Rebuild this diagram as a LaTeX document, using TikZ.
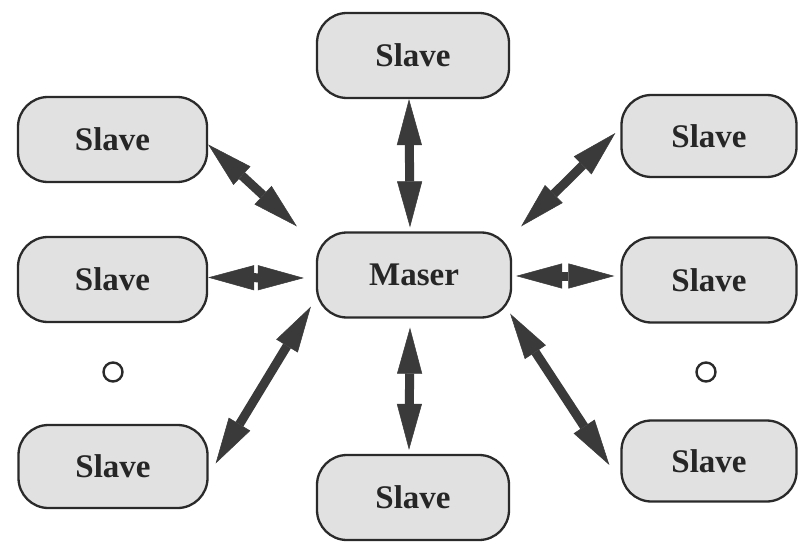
\documentclass[tikz,border=0pt]{standalone}
\usepackage{fontspec}
\setmainfont{Liberation Serif}
\usetikzlibrary{arrows.meta}
\definecolor{boxfill}{HTML}{E1E1E1}
\definecolor{boxline}{HTML}{2A2A2A}
\definecolor{arrowgray}{HTML}{3A3A3A}
\tikzset{
  unitbox/.style={draw=boxline, line width=2.3pt, fill=boxfill, rounded corners=30pt,
    minimum height=85pt, inner sep=0pt,
    font=\fontsize{33}{33}\selectfont\bfseries, text=black!85},
  link/.style={draw=arrowgray, line width=9pt,
    {Triangle[length=46pt,width=25pt,line width=0.5pt]}-{Triangle[length=46pt,width=25pt,line width=0.5pt]}},
  dotmark/.style={draw=boxline, line width=2.4pt, fill=white}
}
\begin{document}
\begin{tikzpicture}[x=1pt,y=-1pt]
\path[use as bounding box, fill=white] (0,0) rectangle (800,548);

% central unit
\node[unitbox, minimum width=194pt] (m) at (414,275) {Maser};

% units above and below
\node[unitbox, minimum width=192pt] (top) at (413,55.5) {Slave};
\node[unitbox, minimum width=192pt] (bot) at (413,497.5) {Slave};

% left column
\node[unitbox, minimum width=189pt] (l1) at (112.5,139.5) {Slave};
\node[unitbox, minimum width=189pt] (l2) at (112.5,279.5) {Slave};
\node[unitbox, minimum width=189pt, minimum height=83pt] (l3) at (113,466.5) {Slave};
\node[dotmark, circle, minimum size=19pt, inner sep=0pt] (ldot) at (113,372) {};

% right column
\node[unitbox, minimum width=175pt, minimum height=82pt] (r1) at (709,136) {Slave};
\node[unitbox, minimum width=175pt] (r2) at (709,280) {Slave};
\node[unitbox, minimum width=175pt, minimum height=81pt] (r3) at (709,461) {Slave};
\node[dotmark, circle, minimum size=19pt, inner sep=0pt] (rdot) at (706,372) {};

% bidirectional links
\draw[link] ([yshift=-5]l1.east) -- ([shift={(-19,-5)}]m.north west);
\draw[link] ([xshift=-4]top.south) -- ([shift={(-4,-4)}]m.north);
\draw[link] ([shift={(9,-5)}]m.north east) -- ([shift={(-5,-3)}]r1.west);
\draw[link] ([shift={(0,-2)}]l2.east) -- ([shift={(-12,3)}]m.west);
\draw[link] ([shift={(4,1)}]m.east) -- ([shift={(-6,-4)}]r2.west);
\draw[link] ([shift={(7,-3)}]l3.east) -- ([shift={(-5,-12)}]m.south west);
\draw[link] ([shift={(-4,9)}]m.south) -- ([shift={(-4,-4)}]bot.north);
\draw[link] ([shift={(-2,-5)}]m.south east) -- ([shift={(-11,4)}]r3.west);
\end{tikzpicture}
\end{document}
